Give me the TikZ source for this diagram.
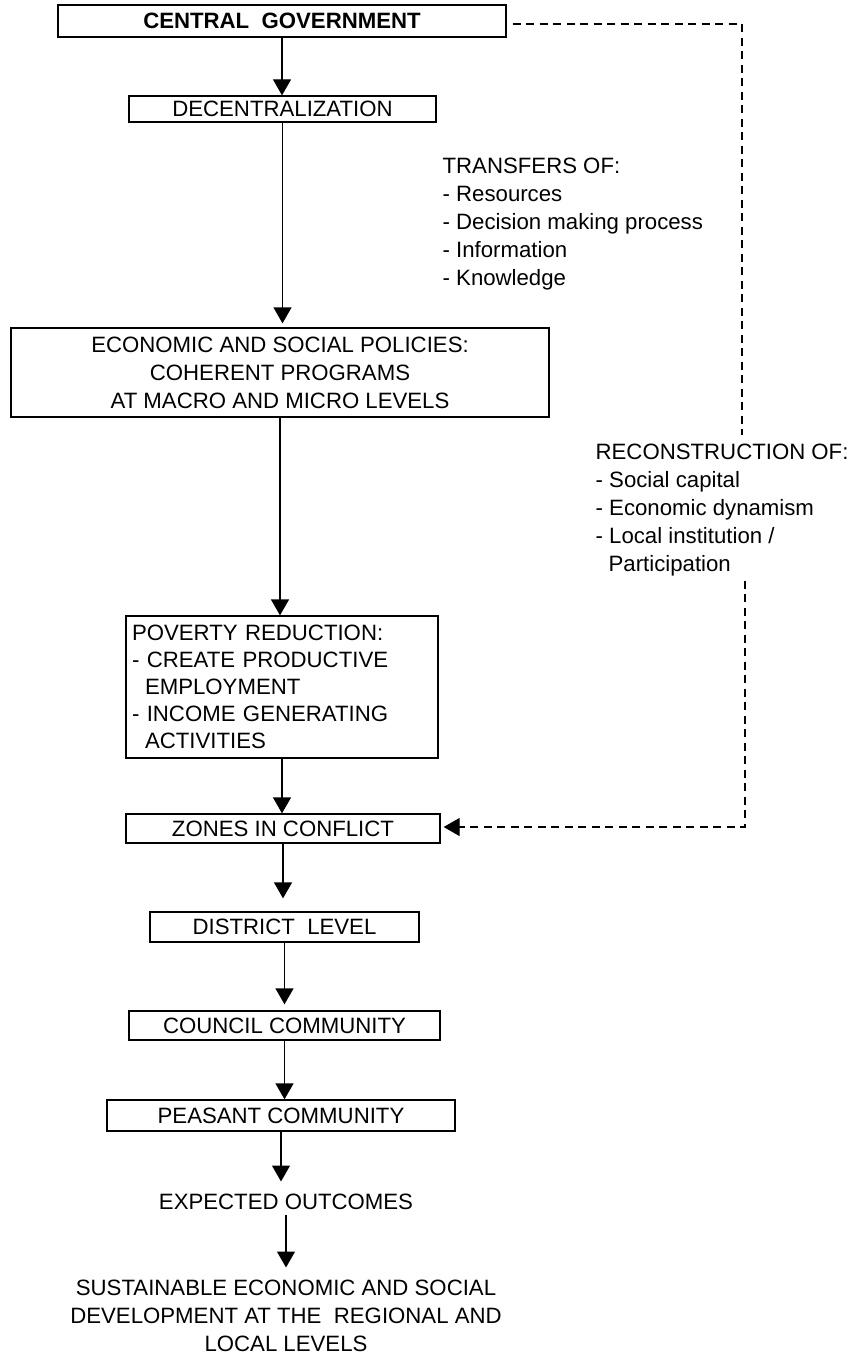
\documentclass[tikz,border=0pt]{standalone}
\usepackage{fontspec}
\setmainfont{Liberation Sans}
\usetikzlibrary{arrows.meta}
\begin{document}
\begin{tikzpicture}[x=0.5pt,y=-0.5pt,
    font=\fontsize{11.1}{14}\selectfont,
    line width=0.65pt,
    box/.style={draw,inner sep=0pt},
    txt/.style={inner sep=0pt,align=left},
    dashline/.style={dash pattern=on 4pt off 2.75pt}]
  \useasboundingbox (0,0) rectangle (856,1354);
  \draw
    (282,21) node[box,minimum width=224pt,minimum height=16pt] (gov){\textbf{CENTRAL\ \ GOVERNMENT}}
    (282.5,109) node[box,minimum width=153.5pt,minimum height=13pt] (dec){DECENTRALIZATION}
    (280,372.5) node[box,minimum width=269pt,minimum height=44.5pt,align=center] (pol){ECONOMIC AND SOCIAL POLICIES:\\COHERENT PROGRAMS\\AT MACRO AND MICRO LEVELS}
    (282,687) node[box,minimum height=71pt,text width=150pt,inner xsep=3pt,align=left,font=\fontsize{11.1}{13.5}\selectfont] (pov){POVERTY REDUCTION:\\- CREATE PRODUCTIVE\\\hspace*{6.5pt}EMPLOYMENT\\- INCOME GENERATING\\\hspace*{6.5pt}ACTIVITIES}
    (283,828.5) node[box,minimum width=157pt,minimum height=14.5pt] (zon){ZONES IN CONFLICT}
    (284.5,927) node[box,minimum width=134.5pt,minimum height=15pt] (dis){DISTRICT\ \ LEVEL}
    (284.5,1025.5) node[box,minimum width=155.5pt,minimum height=14.5pt] (cou){COUNCIL COMMUNITY}
    (281,1115.5) node[box,minimum width=174pt,minimum height=15.5pt] (pea){PEASANT COMMUNITY}
    (286,1202) node[txt] (exp){EXPECTED OUTCOMES}
    (286,1316) node[txt,align=center] (sus){SUSTAINABLE ECONOMIC AND SOCIAL\\DEVELOPMENT AT THE\ \ REGIONAL AND\\LOCAL LEVELS}
    (442,224) node[txt,anchor=west] (tra){TRANSFERS OF:\\- Resources\\- Decision making process\\- Information\\- Knowledge}
    (595,510) node[txt,anchor=west] (rec){RECONSTRUCTION OF:\\- Social capital\\- Economic dynamism\\- Local institution /\\\hspace*{6.5pt}Participation};
  \coordinate (ctop) at (742,24);
  \coordinate (cbot) at (745,827);
  \begin{scope}[-{Triangle[width=9pt,length=8pt]}]
    \draw (gov.south) to (gov.south |- dec.north);
    \draw[shorten >=2pt] (dec.south) to (dec.south |- pol.north);
    \draw (pol.south) to (pol.south |- pov.north);
    \draw (pov.south) to (pov.south |- zon.north);
    \draw[shorten >=6.5pt] (zon.south) to (zon.south |- dis.north);
    \draw[shorten >=3pt] (dis.south) to (dis.south |- cou.north);
    \draw (cou.south) to (cou.south |- pea.north);
    \draw[shorten >=6pt] (pea.south) to (pea.south |- exp.north);
    \draw[shorten <=2pt,shorten >=6pt] (exp.south) to (exp.south |- sus.north);
    \draw[dashline,-] ([xshift=3pt]gov.east |- ctop) -- (ctop) -- ([yshift=4pt]rec.north -| ctop);
    \draw[dashline] ([yshift=-2pt]rec.south -| cbot) -- (cbot) -- ([xshift=1.5pt]zon.east |- cbot);
  \end{scope}
\end{tikzpicture}
\end{document}
